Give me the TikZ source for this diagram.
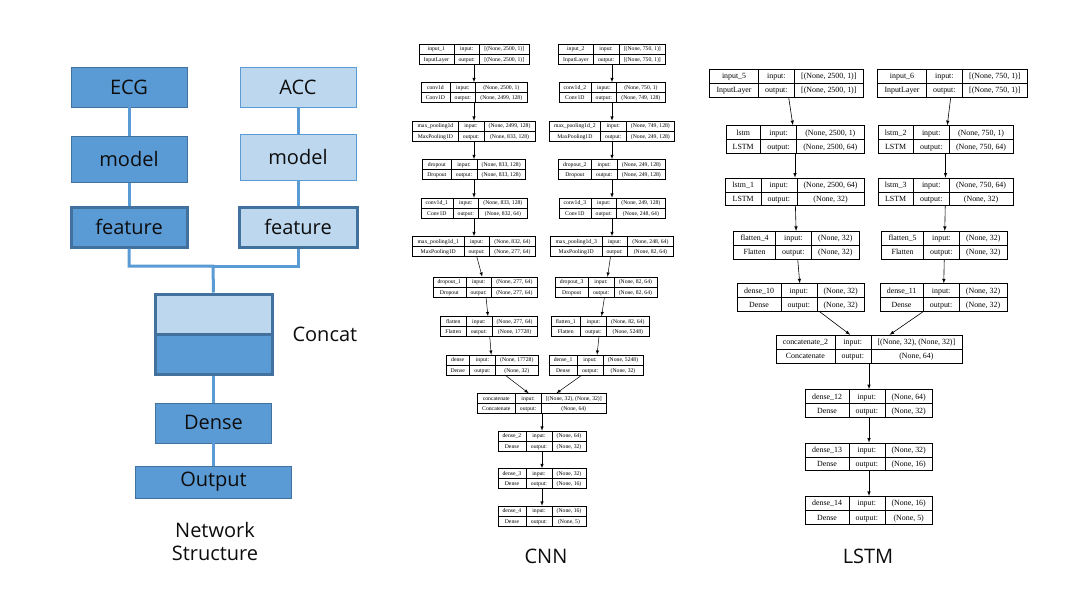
\documentclass[tikz,border=0pt]{standalone}
\usepackage{fontspec}
\setmainfont{Liberation Serif}
\newfontfamily\nsfont{Open Sans}
\usepackage{tikz}
\usetikzlibrary{arrows,positioning}
\definecolor{nsblue}{RGB}{91,155,213}
\definecolor{nslight}{RGB}{189,215,238}
\definecolor{nsdark}{RGB}{65,113,156}
\definecolor{nstext}{RGB}{13,13,13}
\newcommand{\bigfont}{\nsfont\fontsize{20}{23}\selectfont}
\newcommand{\cnnfont}{\fontsize{5.7}{9.8}\selectfont\setlength{\tabcolsep}{4.8pt}}
\newcommand{\lstmfont}{\fontsize{7.9}{13.7}\selectfont\setlength{\tabcolsep}{6.8pt}}
\newcommand{\layer}[4]{\begin{tabular}{c|c|c}#1 & input: & #3\\\hline #2 & output: & #4\end{tabular}}
\tikzstyle{block} = [rectangle, minimum width=116pt, minimum height=40pt, text centered, draw=nsdark, fill=nsblue, text=nstext, font=\bigfont]
\tikzstyle{lightblock} = [block, draw=nsblue, fill=nslight]
\tikzstyle{featblock} = [line width=3pt, draw=nsdark]
\tikzstyle{link} = [line width=3pt, color=nsblue]
\tikzstyle{arrow} = [->,>=latex]
\tikzstyle{cnnlayer} = [rectangle, draw, inner sep=0pt, font=\cnnfont]
\tikzstyle{lstmlayer} = [rectangle, draw, inner sep=0pt, font=\lstmfont]
\begin{document}
\begin{tikzpicture}[x=1pt, y=-1pt]
\fill[white] (0,0) rectangle (1076,598);

% Network structure
\node (ecg) [block] at (129,87) {ECG};
\node (acc) [lightblock] at (298,87) {ACC};
\node (model1) [block, minimum height=46pt, below=29pt of ecg] {model};
\node (model2) [lightblock, minimum height=46pt, below=27pt of acc] {model};
\node (feat1) [block, featblock, below=23pt of model1] {feature};
\node (feat2) [lightblock, featblock, minimum width=118pt, below=25pt of model2] {feature};
\coordinate (merge) at (213,266);
\node (cat1) [lightblock, featblock, minimum width=117pt] at (213.5,314) {};
\node (cat2) [block, featblock, minimum width=117pt] at (213.5,354) {};
\node (catlabel) [anchor=west, text=nstext, font=\bigfont] at (289,334) {Concat};
\node (dense) [block, below=27pt of cat2] {Dense};
\node (output) [block, minimum width=156pt, minimum height=32pt, below=23pt of dense] {Output};
\node (nslabel) [align=center, text=nstext, font=\bigfont] at (215,541) {Network\\Structure};

\draw[link] (ecg) -- (model1);
\draw[link] (model1) -- (feat1);
\draw[link] (acc) -- (model2);
\draw[link] (model2) -- (feat2);
\draw[link] (feat1.south) |- (merge) -- (cat1.north);
\draw[link] (feat2.south) |- (merge);
\draw[link] (cat2) -- (dense);
\draw[link] (dense) -- (output);

% CNN
\begin{scope}[node distance=18pt, line width=0.5pt]
\node (cin1) [cnnlayer] at (474,54) {\layer{input\_1}{InputLayer}{[(None, 2500, 1)]}{[(None, 2500, 1)]}};
\node (cconv1) [cnnlayer, below=of cin1] {\layer{conv1d}{Conv1D}{(None, 2500, 1)}{(None, 2499, 128)}};
\node (cpool1) [cnnlayer, below=of cconv1] {\layer{max\_pooling1d}{MaxPooling1D}{(None, 2499, 128)}{(None, 833, 128)}};
\node (cdrop1) [cnnlayer, below=of cpool1] {\layer{dropout}{Dropout}{(None, 833, 128)}{(None, 833, 128)}};
\node (cconv2) [cnnlayer, below=of cdrop1] {\layer{conv1d\_1}{Conv1D}{(None, 833, 128)}{(None, 832, 64)}};
\node (cpool2) [cnnlayer, below=of cconv2] {\layer{max\_pooling1d\_1}{MaxPooling1D}{(None, 832, 64)}{(None, 277, 64)}};
\node (cdrop2) [cnnlayer, below=20pt of cpool2, xshift=11pt] {\layer{dropout\_1}{Dropout}{(None, 277, 64)}{(None, 277, 64)}};
\node (cflat1) [cnnlayer, below=19pt of cdrop2, xshift=4pt] {\layer{flatten}{Flatten}{(None, 277, 64)}{(None, 17728)}};
\node (cdense1) [cnnlayer, below=of cflat1, xshift=3pt] {\layer{dense}{Dense}{(None, 17728)}{(None, 32)}};

\node (cin2) [cnnlayer] at (612,54) {\layer{input\_2}{InputLayer}{[(None, 750, 1)]}{[(None, 750, 1)]}};
\node (cconv3) [cnnlayer, below=of cin2] {\layer{conv1d\_2}{Conv1D}{(None, 750, 1)}{(None, 749, 128)}};
\node (cpool3) [cnnlayer, below=of cconv3] {\layer{max\_pooling1d\_2}{MaxPooling1D}{(None, 749, 128)}{(None, 249, 128)}};
\node (cdrop3) [cnnlayer, below=of cpool3] {\layer{dropout\_2}{Dropout}{(None, 249, 128)}{(None, 249, 128)}};
\node (cconv4) [cnnlayer, below=of cdrop3] {\layer{conv1d\_3}{Conv1D}{(None, 249, 128)}{(None, 248, 64)}};
\node (cpool4) [cnnlayer, below=of cconv4] {\layer{max\_pooling1d\_3}{MaxPooling1D}{(None, 248, 64)}{(None, 82, 64)}};
\node (cdrop4) [cnnlayer, below=20pt of cpool4, xshift=-6pt] {\layer{dropout\_3}{Dropout}{(None, 82, 64)}{(None, 82, 64)}};
\node (cflat2) [cnnlayer, below=19pt of cdrop4, xshift=-6pt] {\layer{flatten\_1}{Flatten}{(None, 82, 64)}{(None, 5248)}};
\node (cdense2) [cnnlayer, below=of cflat2, xshift=-4pt] {\layer{dense\_1}{Dense}{(None, 5248)}{(None, 32)}};

\node (ccat) [cnnlayer, below=of cdense1, xshift=50pt] {\layer{concatenate}{Concatenate}{[(None, 32), (None, 32)]}{(None, 64)}};
\node (cdense3) [cnnlayer, below=17pt of ccat] {\layer{dense\_2}{Dense}{(None, 64)}{(None, 32)}};
\node (cdense4) [cnnlayer, below=17pt of cdense3] {\layer{dense\_3}{Dense}{(None, 32)}{(None, 16)}};
\node (cdense5) [cnnlayer, below=17pt of cdense4] {\layer{dense\_4}{Dense}{(None, 16)}{(None, 5)}};

\draw[arrow] (cin1) -- (cconv1);
\draw[arrow] (cconv1) -- (cpool1);
\draw[arrow] (cpool1) -- (cdrop1);
\draw[arrow] (cdrop1) -- (cconv2);
\draw[arrow] (cconv2) -- (cpool2);
\draw[arrow] (cpool2) -- (cdrop2);
\draw[arrow] (cdrop2) -- (cflat1);
\draw[arrow] (cflat1) -- (cdense1);
\draw[arrow] (cin2) -- (cconv3);
\draw[arrow] (cconv3) -- (cpool3);
\draw[arrow] (cpool3) -- (cdrop3);
\draw[arrow] (cdrop3) -- (cconv4);
\draw[arrow] (cconv4) -- (cpool4);
\draw[arrow] (cpool4) -- (cdrop4);
\draw[arrow] (cdrop4) -- (cflat2);
\draw[arrow] (cflat2) -- (cdense2);
\draw[arrow] (cdense1) -- (ccat);
\draw[arrow] (cdense2) -- (ccat);
\draw[arrow] (ccat) -- (cdense3);
\draw[arrow] (cdense3) -- (cdense4);
\draw[arrow] (cdense4) -- (cdense5);
\end{scope}
\node (cnnlabel) [text=nstext, font=\bigfont] at (546,556) {CNN};

% LSTM
\begin{scope}[node distance=25pt, line width=0.6pt]
\node (lin1) [lstmlayer] at (786.5,83) {\layer{input\_5}{InputLayer}{[(None, 2500, 1)]}{[(None, 2500, 1)]}};
\node (llstm1) [lstmlayer, below=28pt of lin1, xshift=8.5pt] {\layer{lstm}{LSTM}{(None, 2500, 1)}{(None, 2500, 64)}};
\node (llstm2) [lstmlayer, below=24pt of llstm1] {\layer{lstm\_1}{LSTM}{(None, 2500, 64)}{(None, 32)}};
\node (lflat1) [lstmlayer, below=of llstm2, xshift=1.5pt] {\layer{flatten\_4}{Flatten}{(None, 32)}{(None, 32)}};
\node (ldense1) [lstmlayer, below=24pt of lflat1, xshift=4.5pt] {\layer{dense\_10}{Dense}{(None, 32)}{(None, 32)}};

\node (lin2) [lstmlayer] at (952.5,83) {\layer{input\_6}{InputLayer}{[(None, 750, 1)]}{[(None, 750, 1)]}};
\node (llstm3) [lstmlayer, below=28pt of lin2, xshift=-7pt] {\layer{lstm\_2}{LSTM}{(None, 750, 1)}{(None, 750, 64)}};
\node (llstm4) [lstmlayer, below=24pt of llstm3] {\layer{lstm\_3}{LSTM}{(None, 750, 64)}{(None, 32)}};
\node (lflat2) [lstmlayer, below=of llstm4, xshift=-1pt] {\layer{flatten\_5}{Flatten}{(None, 32)}{(None, 32)}};
\node (ldense2) [lstmlayer, below=24pt of lflat2, xshift=-1pt] {\layer{dense\_11}{Dense}{(None, 32)}{(None, 32)}};

\node (lcat) [lstmlayer, below=23pt of ldense1, xshift=68pt] {\layer{concatenate\_2}{Concatenate}{[(None, 32), (None, 32)]}{(None, 64)}};
\node (ldense3) [lstmlayer, below=26pt of lcat] {\layer{dense\_12}{Dense}{(None, 64)}{(None, 32)}};
\node (ldense4) [lstmlayer, below=of ldense3] {\layer{dense\_13}{Dense}{(None, 32)}{(None, 16)}};
\node (ldense5) [lstmlayer, below=of ldense4] {\layer{dense\_14}{Dense}{(None, 16)}{(None, 5)}};

\draw[arrow] (lin1) -- (llstm1);
\draw[arrow] (llstm1) -- (llstm2);
\draw[arrow] (llstm2) -- (lflat1);
\draw[arrow] (lflat1) -- (ldense1);
\draw[arrow] (lin2) -- (llstm3);
\draw[arrow] (llstm3) -- (llstm4);
\draw[arrow] (llstm4) -- (lflat2);
\draw[arrow] (lflat2) -- (ldense2);
\draw[arrow] (ldense1) -- (lcat);
\draw[arrow] (ldense2) -- (lcat);
\draw[arrow] (lcat) -- (ldense3);
\draw[arrow] (ldense3) -- (ldense4);
\draw[arrow] (ldense4) -- (ldense5);
\end{scope}
\node (lstmlabel) [text=nstext, font=\bigfont] at (868,556) {LSTM};
\end{tikzpicture}
\end{document}
